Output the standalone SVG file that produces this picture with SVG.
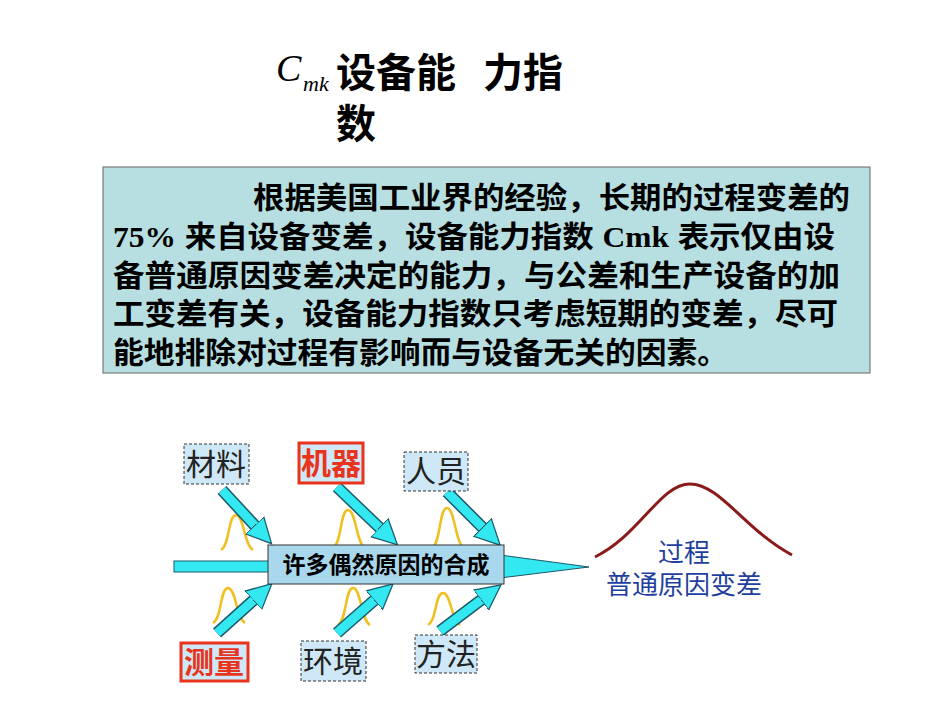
<svg xmlns="http://www.w3.org/2000/svg" width="950" height="713" viewBox="0 0 950 713">
<defs>
<style>
.cjk{font-family:"Liberation Sans","Noto Sans CJK SC",sans-serif}
.b{font-weight:bold}
.lbl{fill:#cfe8f7;stroke:#333;stroke-width:1;stroke-dasharray:3 2}
.red{fill:#cfe8f7;stroke:#e8341c;stroke-width:3}
.ol{stroke:#1a5a6a;stroke-width:12;stroke-linecap:butt}
.in{stroke:#33e8f0;stroke-width:9;stroke-linecap:butt}
.y{fill:none;stroke:#f0c020;stroke-width:2.5}
</style>
<marker id="ah" markerUnits="userSpaceOnUse" markerWidth="30" markerHeight="30" refX="4" refY="12" viewBox="0 0 24 24" orient="auto">
<polygon points="0,2 20,12 0,22" fill="#33e8f0" stroke="#1a5a6a" stroke-width="1"/>
</marker>
</defs>
<rect width="950" height="713" fill="#fff"/>
<g id="title">
<text x="276" y="81" font-family="Liberation Serif,serif" font-style="italic" font-size="38">C</text>
<text x="303" y="91" font-family="Liberation Serif,serif" font-style="italic" font-size="22">mk</text>
<text x="336" y="87" class="cjk b" font-size="40">设备能</text>
<text x="483" y="87" class="cjk b" font-size="40">力指</text>
<text x="336" y="138" class="cjk b" font-size="40">数</text>
</g>
<g id="desc">
<rect x="103" y="167" width="767" height="206" fill="#b7dfe1" stroke="#666" stroke-width="1"/>
<g class="cjk b" font-size="30" fill="#000">
<text x="253" y="208" textLength="597" lengthAdjust="spacingAndGlyphs">根据美国工业界的经验，长期的过程变差的</text>
<text x="113" y="247" textLength="722" lengthAdjust="spacingAndGlyphs"><tspan font-family="Liberation Serif,serif">75%</tspan> 来自设备变差，设备能力指数 <tspan font-family="Liberation Serif,serif">Cmk</tspan> 表示仅由设</text>
<text x="113" y="286" textLength="727" lengthAdjust="spacingAndGlyphs">备普通原因变差决定的能力，与公差和生产设备的加</text>
<text x="113" y="324" textLength="725" lengthAdjust="spacingAndGlyphs">工变差有关，设备能力指数只考虑短期的变差，尽可</text>
<text x="113" y="363" textLength="615" lengthAdjust="spacingAndGlyphs">能地排除对过程有影响而与设备无关的因素。</text>
</g>
</g>
<g id="curves">
<path class="y" d="M221,550 C230,545 228,515 236,515 C244,515 244,545 253,550"/>
<path class="y" d="M333,548 C342,543 340,510 348,510 C356,510 356,543 365,548"/>
<path class="y" d="M432,548 C441,543 439,508 447,508 C455,508 455,543 464,548"/>
<path class="y" d="M213,623 C222,618 220,588 228,588 C236,588 236,618 245,623"/>
<path class="y" d="M338,625 C347,620 345,588 353,588 C361,588 361,620 370,625"/>
<path class="y" d="M428,625 C437,620 435,593 443,593 C451,593 451,620 460,625"/>
<path d="M595,557 C640,535 660,484 690,484 C720,484 745,530 792,555" fill="none" stroke="#8b1a1a" stroke-width="3"/>
</g>
<g id="connectors">
<rect x="174" y="561" width="100" height="11" fill="#33e8f0" stroke="#1a5a6a" stroke-width="1"/>
<polygon points="500,555 589,567 500,578" fill="#33e8f0" stroke="#1a5a6a" stroke-width="1"/>
<line class="ol" x1="222" y1="490" x2="258" y2="529"/><line class="in" x1="222" y1="490" x2="258" y2="529" marker-end="url(#ah)"/>
<line class="ol" x1="337" y1="487" x2="383" y2="531"/><line class="in" x1="337" y1="487" x2="383" y2="531" marker-end="url(#ah)"/>
<line class="ol" x1="447" y1="492" x2="486" y2="531"/><line class="in" x1="447" y1="492" x2="486" y2="531" marker-end="url(#ah)"/>
<line class="ol" x1="217" y1="633" x2="257" y2="597"/><line class="in" x1="217" y1="633" x2="257" y2="597" marker-end="url(#ah)"/>
<line class="ol" x1="337" y1="633" x2="378" y2="597"/><line class="in" x1="337" y1="633" x2="378" y2="597" marker-end="url(#ah)"/>
<line class="ol" x1="440" y1="631" x2="485" y2="597"/><line class="in" x1="440" y1="631" x2="485" y2="597" marker-end="url(#ah)"/>
</g>
<g id="center">
<rect x="268" y="545" width="236" height="39" fill="#a9d8ee" stroke="#333" stroke-width="1"/>
<text x="386" y="573" text-anchor="middle" class="cjk b" font-size="23">许多偶然原因的合成</text>
</g>
<g id="n-cailiao"><rect class="lbl" x="184" y="444" width="65" height="40"/><text x="216" y="475" text-anchor="middle" class="cjk" font-size="30" fill="#222">材料</text></g>
<g id="n-jiqi"><rect class="red" x="299" y="443" width="64" height="40"/><text x="331" y="474" text-anchor="middle" class="cjk b" font-size="30" fill="#e8341c">机器</text></g>
<g id="n-renyuan"><rect class="lbl" x="404" y="452" width="64" height="39"/><text x="436" y="482" text-anchor="middle" class="cjk" font-size="30" fill="#222">人员</text></g>
<g id="n-celiang"><rect class="red" x="181" y="643" width="67" height="38"/><text x="214" y="673" text-anchor="middle" class="cjk b" font-size="30" fill="#e8341c">测量</text></g>
<g id="n-huanjing"><rect class="lbl" x="301" y="641" width="65" height="40"/><text x="333" y="672" text-anchor="middle" class="cjk" font-size="30" fill="#222">环境</text></g>
<g id="n-fangfa"><rect class="lbl" x="415" y="635" width="62" height="38"/><text x="446" y="665" text-anchor="middle" class="cjk" font-size="30" fill="#222">方法</text></g>
<g id="process" class="cjk" font-size="26" fill="#1f3f9f" text-anchor="middle">
<text x="684" y="562">过程</text>
<text x="684" y="594">普通原因变差</text>
</g>
</svg>
